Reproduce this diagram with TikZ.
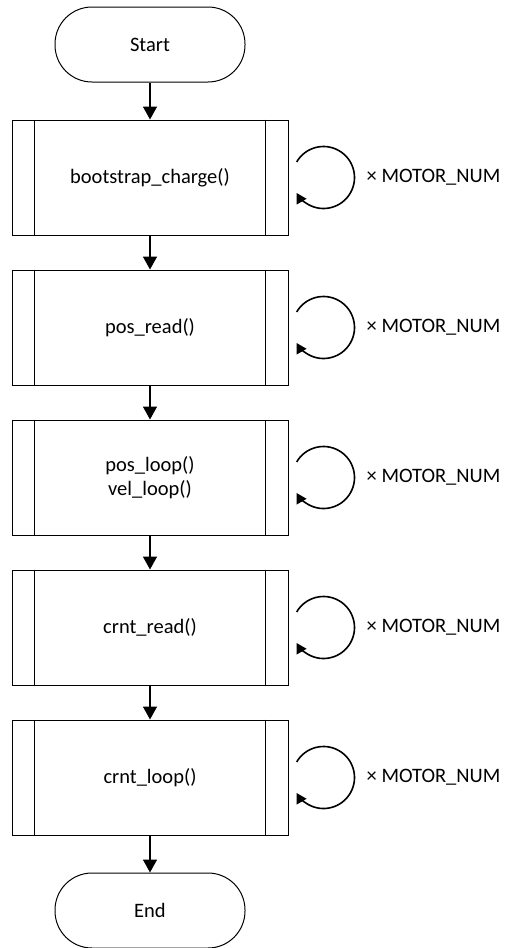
\documentclass[tikz,border=0pt]{standalone}
\usepackage{fontspec}
\setmainfont{Carlito}
\usetikzlibrary{arrows.meta}
\tikzset{
  term/.style={draw, line width=1pt, rounded corners=37pt, minimum width=190pt, minimum height=75pt, inner sep=0pt, font=\fontsize{20.5}{24}\selectfont},
  proc/.style={draw, line width=1pt, minimum width=276pt, minimum height=115pt, inner sep=0pt, align=center, font=\fontsize{20.5}{24}\selectfont},
  flow/.style={line width=1.6pt, -{Triangle[length=13pt,width=14pt]}},
  loopar/.style={line width=1.6pt, -{Triangle[length=10pt,width=11pt]}},
  lbl/.style={anchor=west, inner sep=0pt, font=\fontsize{20.5}{24}\selectfont}
}
\begin{document}
\begin{tikzpicture}[x=1pt,y=-1pt]
\useasboundingbox (0,0) rectangle (505,948);
\node[term] (start) at (150,44.5) {Start};
\node[proc] (b1) at (150,177.5) {bootstrap\_charge()};
\node[proc] (b2) at (150,327.5) {pos\_read()};
\node[proc] (b3) at (150,477.5) {pos\_loop()\\vel\_loop()};
\node[proc] (b4) at (150,627.5) {crnt\_read()};
\node[proc] (b5) at (150,777.5) {crnt\_loop()};
\node[term] (end) at (150,910.5) {End};
\foreach \b in {b1,b2,b3,b4,b5}{
  \draw[line width=1pt] ([xshift=23pt]\b.north west) -- ([xshift=23pt]\b.south west);
  \draw[line width=1pt] ([xshift=-23pt]\b.north east) -- ([xshift=-23pt]\b.south east);
  \coordinate (\b c) at ([xshift=35pt]\b.east);
  \draw[loopar] (\b c) ++(150:31pt) arc[start angle=150, end angle=-150, radius=31pt];
  \node[lbl] (\b l) at ([xshift=43pt]\b c) {× MOTOR\_NUM};
}
\draw[flow] (start) -- (b1);
\draw[flow] (b1) -- (b2);
\draw[flow] (b2) -- (b3);
\draw[flow] (b3) -- (b4);
\draw[flow] (b4) -- (b5);
\draw[flow] (b5) -- (end);
\end{tikzpicture}
\end{document}
